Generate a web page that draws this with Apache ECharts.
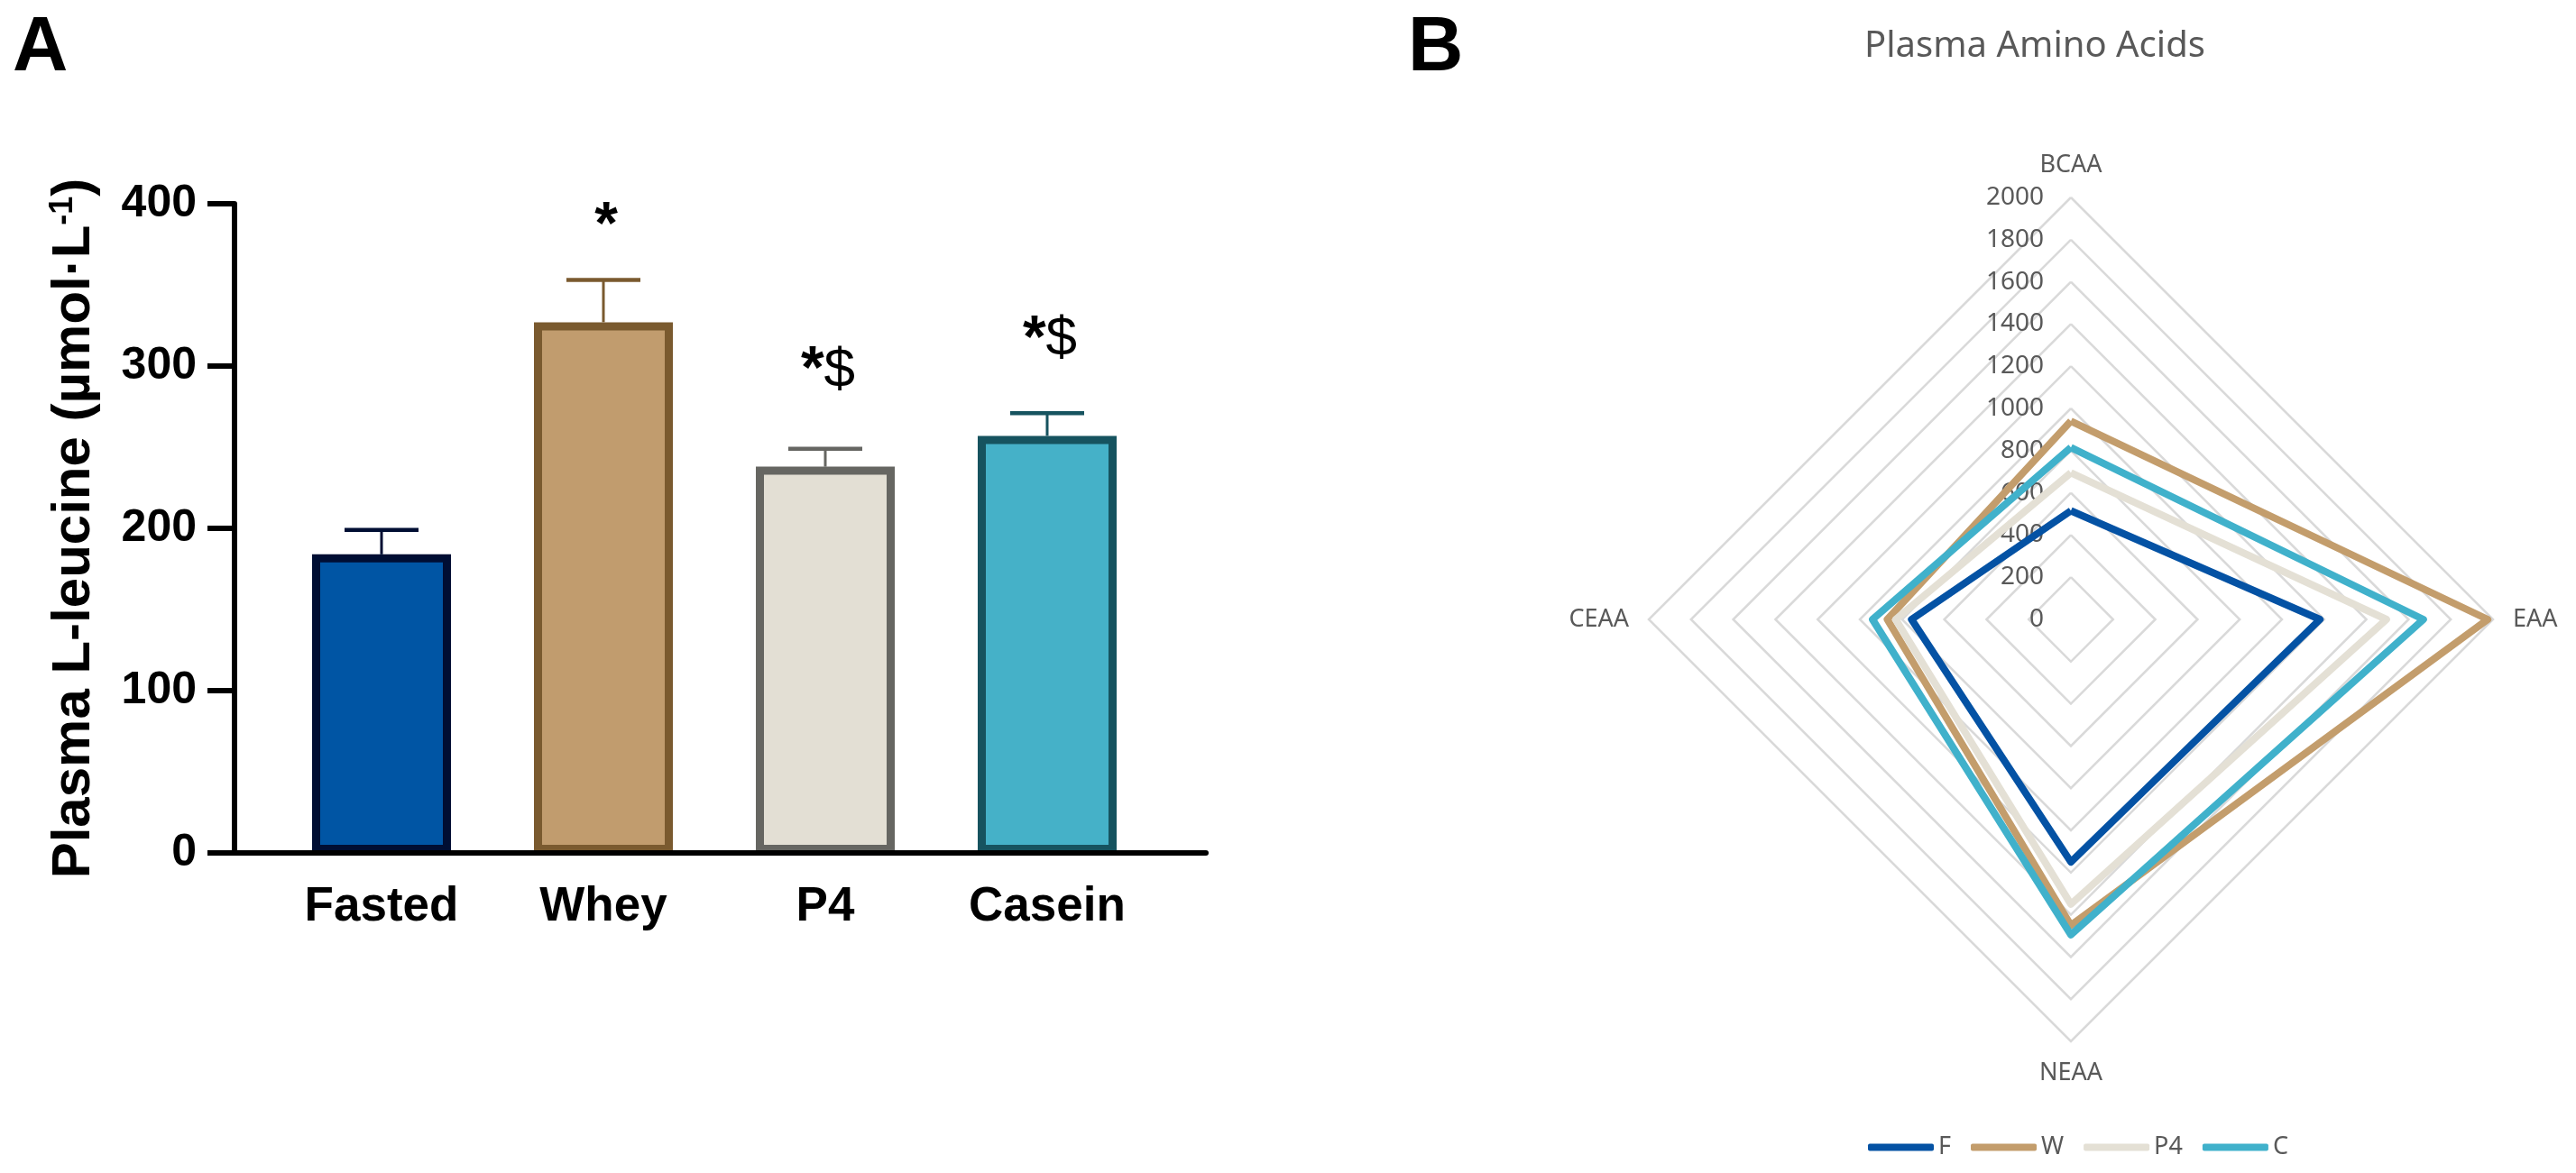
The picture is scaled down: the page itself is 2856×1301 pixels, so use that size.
<!DOCTYPE html>
<html>
<head>
<meta charset="utf-8">
<title>Plasma L-leucine / Plasma Amino Acids</title>
<script src="https://cdn.jsdelivr.net/npm/echarts@6/dist/echarts.min.js"></script>
<style>
    html, body { margin: 0; padding: 0; background: #fff; }
    #chart { width: 2856px; height: 1301px; }
</style>
</head>
<body>
<div id="chart"></div>
<script>
// panel A: plasma leucine, mean + SEM
var groups = ['Fasted', 'Whey', 'P4', 'Casein'];
var leucineMean = [184, 327, 238, 257];
var leucineSem = [15, 26, 11, 14];
var marks = ['', '*', '*$', '*$'];
var leucineMin = 0;
var leucineMax = 400;
var leucineStep = 100;

// panel B: plasma amino acids radar
var aminoAxes = ['BCAA', 'CEAA', 'NEAA', 'EAA'];
var aminoMax = 2000;
var aminoNames = ['F', 'W', 'P4', 'C'];
var fastedVals = [515, 755, 1150, 1180];
var wheyVals = [940, 870, 1450, 1975];
var p4Vals = [695, 830, 1350, 1495];
var caseinVals = [815, 940, 1495, 1670];

var barFill = ['#0055A4', '#C19C6E', '#E3DFD4', '#45B1C8'];
var barEdge = ['#000E33', '#7A5A2F', '#666662', '#16535F'];
var lineColors = ['#0452A4', '#C39D6C', '#E4E0D5', '#40B1CB'];
var arial = "'Liberation Sans', Arial, sans-serif";
var noto = "'Noto Sans', sans-serif";

var errData = leucineMean.map(function(v, i) { return [i, v, v + leucineSem[i]]; });

function renderErr(params, api) {
    var i = params.dataIndex;
    var mid = api.coord([api.value(0), api.value(1)]);
    var top = api.coord([api.value(0), api.value(2)]);
    var c = barEdge[i];
    var kids = [
        { type: 'line', shape: { x1: mid[0], y1: mid[1], x2: top[0], y2: top[1] }, style: { stroke: c, lineWidth: 3 } },
        { type: 'line', shape: { x1: top[0] - 41, y1: top[1], x2: top[0] + 41, y2: top[1] }, style: { stroke: c, lineWidth: 4.5 } }
    ];
    if (marks[i]) {
        var txt = marks[i].replace('*', '{s|*}').replace('$', '{d|$}');
        kids.push({
            type: 'text', x: mid[0] + 3, y: mid[1] - 73,
            style: {
                text: txt, align: 'center', verticalAlign: 'bottom', fill: '#000',
                rich: {
                    s: { fontSize: 66, fontWeight: 'bold', fontFamily: arial, fill: '#000' },
                    d: { fontSize: 62, fontWeight: 'normal', fontFamily: arial, fill: '#000' }
                }
            }
        });
    }
    return { type: 'group', children: kids };
}

function radarSeries(k, vals) {
    return {
        type: 'radar',
        name: aminoNames[k],
        symbol: 'none',
        lineStyle: { width: 8, color: lineColors[k], join: 'round' },
        itemStyle: { color: lineColors[k] },
        data: [{ name: aminoNames[k], value: vals }]
    };
}

var option = {
    backgroundColor: '#fff',
    animation: false,
    title: [{
        text: 'A', left: 14, top: 12, padding: 0,
        textStyle: { fontSize: 85, fontWeight: 'bold', color: '#000', fontFamily: arial }
    }, {
        text: 'B', left: 1561, top: 12, padding: 0,
        textStyle: { fontSize: 85, fontWeight: 'bold', color: '#000', fontFamily: arial }
    }, {
        text: 'Plasma Amino Acids', left: 2256, top: 32, textAlign: 'center', padding: 0,
        textStyle: { fontSize: 40, fontWeight: 'normal', color: '#595959', fontFamily: noto }
    }],
    legend: {
        data: aminoNames,
        left: 2066,
        top: 1254,
        icon: 'roundRect',
        itemWidth: 73,
        itemHeight: 8,
        itemGap: 22,
        textStyle: { fontSize: 27, color: '#595959', fontFamily: noto }
    },
    grid: [
        { left: 300, top: 226, width: 984, height: 720 },
        { left: 260, top: 226, width: 1077, height: 720 }
    ],
    xAxis: [{
        type: 'category',
        gridIndex: 0,
        data: groups,
        axisLine: { show: false },
        axisTick: { alignWithLabel: true, length: 26, lineStyle: { color: '#000', width: 6 } },
        axisLabel: { fontSize: 53, fontWeight: 'bold', color: '#000', fontFamily: arial, margin: 34 }
    }, {
        type: 'value',
        gridIndex: 1,
        min: 0, max: 1,
        z: 5,
        axisLine: { show: true, lineStyle: { color: '#000', width: 6 } },
        axisTick: { show: false },
        axisLabel: { show: false },
        splitLine: { show: false }
    }],
    yAxis: [{
        type: 'value',
        gridIndex: 0,
        show: false,
        min: leucineMin, max: leucineMax
    }, {
        type: 'value',
        gridIndex: 1,
        min: leucineMin, max: leucineMax, interval: leucineStep,
        z: 5,
        name: 'Plasma L-leucine (µmol·L{sup|-1})',
        nameLocation: 'middle',
        nameGap: 148,
        nameTextStyle: {
            fontSize: 60, fontWeight: 'bold', color: '#000', fontFamily: arial,
            rich: { sup: { fontSize: 36, fontWeight: 'bold', color: '#000', fontFamily: arial, verticalAlign: 'top' } }
        },
        axisLine: { show: true, lineStyle: { color: '#000', width: 6 } },
        axisTick: { show: true, length: 30, lineStyle: { color: '#000', width: 6 } },
        axisLabel: { fontSize: 50, fontWeight: 'bold', color: '#000', fontFamily: arial, margin: 42 },
        splitLine: { show: false }
    }],
    radar: {
        center: [2296, 687],
        radius: 468,
        startAngle: 90,
        splitNumber: 10,
        shape: 'polygon',
        nameGap: 22,
        axisName: { color: '#595959', fontSize: 27, fontFamily: noto },
        indicator: aminoAxes.map(function(n, i) {
            return { name: n, min: 0, max: aminoMax, axisLabel: { show: i === 0 } };
        }),
        axisLine: { show: false },
        axisTick: { show: false },
        axisLabel: {
            color: '#595959', fontSize: 28, fontFamily: noto, margin: 30,
            formatter: function(v) { return String(v); }
        },
        splitLine: { lineStyle: { color: '#D9D9D9', width: 2.5 } },
        splitArea: { show: false }
    },
    series: [{
        type: 'bar',
        xAxisIndex: 0, yAxisIndex: 0,
        barWidth: 154,
        data: leucineMean.map(function(v, i) {
            return { value: v, itemStyle: { color: barFill[i], borderColor: barEdge[i], borderWidth: 9 } };
        })
    }, {
        type: 'custom',
        xAxisIndex: 0, yAxisIndex: 0,
        renderItem: renderErr,
        data: errData
    },
        radarSeries(0, fastedVals),
        radarSeries(1, wheyVals),
        radarSeries(2, p4Vals),
        radarSeries(3, caseinVals)
    ]
};

var chart = echarts.init(document.getElementById('chart'));
chart.setOption(option);
window.onresize = function() {
    chart.resize();
};
</script>
</body>
</html>
